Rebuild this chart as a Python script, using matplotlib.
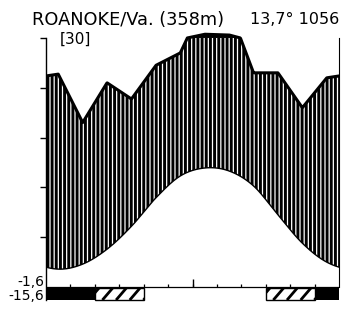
import numpy as np
import matplotlib
matplotlib.use('Agg')
import matplotlib.pyplot as plt

months = ['Jan', 'Feb', 'Mar', 'Apr', 'May', 'Jun', 'Jul', 'Aug', 'Sep', 'Oct', 'Nov', 'Dec']
temp = [3.6, 4.6, 7.6, 12.2, 17.9, 22.3, 23.9, 23.3, 20.3, 14.5, 8.8, 5.0]
prec = [85.5, 66, 82, 75.5, 89, 94, 115, 112, 86, 86, 72, 84]
# 2 = mean daily min below 0 (black), 1 = absolute min below 0 (hatched)
frost = [2, 2, 1, 1, 0, 0, 0, 0, 0, 1, 1, 2]

station = 'ROANOKE/Va. (358m)'
summary = '13,7° 1056'
years = '[30]'
min_labels = ['-1,6', '-15,6']

plt.rcParams['font.family'] = ['DejaVu Sans']
plt.rcParams['hatch.linewidth'] = 2.1


def prec_scale(p):
    # 10 C = 20 mm, above 100 mm compressed 1:10
    p = np.asarray(p, dtype=float)
    return np.where(p <= 100, p / 2, 50 + (p - 100) / 20)


def smooth_periodic(vals, xs):
    # catmull-rom through month midpoints, wrapping around the year
    v = np.asarray(vals, dtype=float)
    n = len(v)
    out = []
    for x in xs:
        t = x - 0.5
        i = int(np.floor(t))
        u = t - i
        p0, p1, p2, p3 = v[(i - 1) % n], v[i % n], v[(i + 1) % n], v[(i + 2) % n]
        out.append(0.5 * ((2 * p1) + (-p0 + p2) * u + (2 * p0 - 5 * p1 + 4 * p2 - p3) * u ** 2
                          + (-p0 + 3 * p1 - 3 * p2 + p3) * u ** 3))
    return np.array(out)


xs = np.linspace(0, 12, 600)
mid = np.arange(12) + 0.5
ext_x = np.concatenate([[mid[0] - 1], mid, [mid[-1] + 1]])
ext_p = np.concatenate([[prec[-1]], prec, [prec[0]]])
p_dense = np.interp(xs, ext_x, ext_p)
p_y = prec_scale(p_dense)
t_y = smooth_periodic(temp, xs)

fig = plt.figure(figsize=(3.41, 3.11), dpi=100)
ax = fig.add_axes([46 / 341, 6 / 311, 293 / 341, 275 / 311])
ax.set_xlim(0, 12)
ax.set_ylim(-3.6, 51.6)

# humid period
ax.fill_between(xs, t_y, np.minimum(p_y, 50), facecolor='white', edgecolor='black',
                hatch='||||', linewidth=0)
# above 100 mm
ax.fill_between(xs, 50, p_y, where=p_y > 50, facecolor='black', linewidth=0)
ax.plot(xs, p_y, color='black', lw=2.2, solid_joinstyle='round')
ax.plot(xs, t_y, color='black', lw=1.0)

# frost bars, consecutive months with same class drawn as one box
runs = []
for i, f in enumerate(frost):
    if runs and runs[-1][2] == f and runs[-1][0] + runs[-1][1] == i:
        runs[-1][1] += 1
    else:
        runs.append([i, 1, f])
for start, n, f in runs:
    if f == 2:
        ax.bar(start, -2.4, bottom=-0.2, width=n, align='edge', color='black', linewidth=0)
    elif f == 1:
        box = ax.bar(start, -2.4, bottom=-0.2, width=n, align='edge', facecolor='white',
                     edgecolor='black', linewidth=1.0)[0]
        # wide diagonal stripes, clipped to the box
        for x0 in np.arange(start - 0.25, start + n, 0.56):
            ln, = ax.plot([x0, x0 + 0.42], [-2.6, -0.2], color='black', lw=2.0,
                          solid_capstyle='butt')
            ln.set_clip_path(box)

ax.axhline(0, color='black', lw=0.9)
ax.vlines(np.arange(1, 12), 0, 0.6, color='black', lw=0.9)
ax.vlines([6], 0, 1.6, color='black', lw=1.0)

for s in ['top', 'bottom']:
    ax.spines[s].set_visible(False)
ax.spines['left'].set_bounds(-2.6, 50)
ax.spines['right'].set_bounds(0, 50)
ax.spines['left'].set_linewidth(1.0)
ax.spines['right'].set_linewidth(0.8)
ax.set_xticks([])
ax.set_yticks([10, 20, 30, 40, 50])
ax.tick_params(axis='y', direction='out', length=4, width=1.0, labelleft=False)

fig.text(32 / 341, 1 - 20 / 311, station, fontsize=12.8, va='center', ha='left')
fig.text(339 / 341, 1 - 20 / 311, summary, fontsize=11.5, va='center', ha='right')
fig.text(60 / 341, 1 - 39 / 311, years, fontsize=11, va='center', ha='left')
fig.text(44 / 341, 1 - 282 / 311, min_labels[0], fontsize=10, va='center', ha='right')
fig.text(44 / 341, 1 - 296 / 311, min_labels[1], fontsize=10, va='center', ha='right')

fig.savefig('out.png', dpi=100)
